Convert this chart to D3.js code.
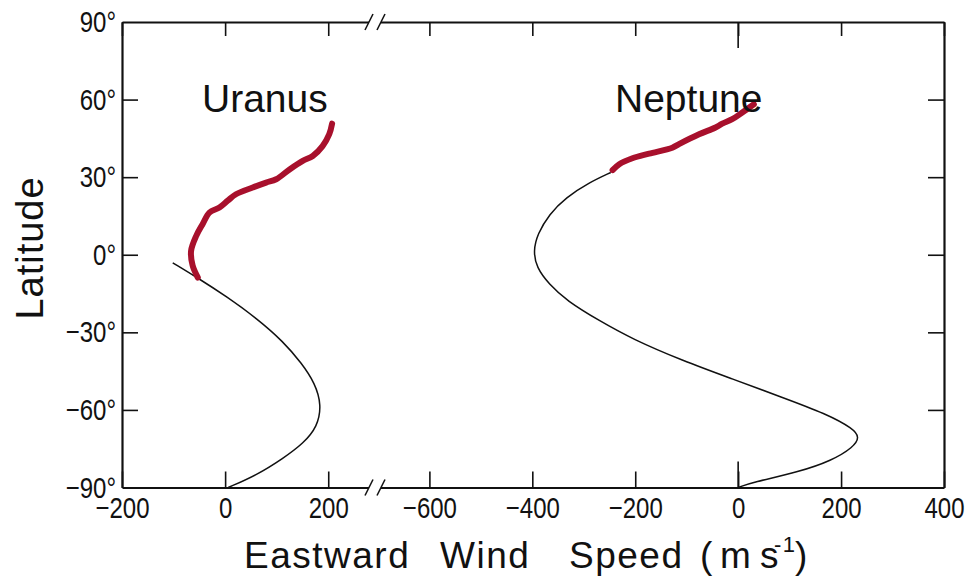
<!DOCTYPE html>
<html>
<head>
<meta charset="utf-8">
<script src="https://cdn.jsdelivr.net/npm/d3@7"></script>
<style>
  body { margin: 0; background: #fff; }
  text { font-family: "Liberation Sans", Arial, sans-serif; fill: #111; }
  .tick text { font-family: "Liberation Sans", Arial, sans-serif; font-size: 30px; fill: #111; }
</style>
</head>
<body>
<div id="chart"></div>
<script>
// tick values
var latTicks = [-90, -60, -30, 0, 30, 60, 90];
var uranusTicks = [-200, 0, 200];
var neptuneTicks = [-600, -400, -200, 0, 200, 400];

// model profiles [wind m/s, latitude]
var uranusModel = [[-101.6, -3.1], [-52, -9.1], [3.1, -16.2], [61.3, -24.6], [112.9, -33.6],
  [148.6, -42], [174.4, -49.7], [187, -58.1], [179, -66.5], [152, -72.9],
  [112.9, -78.7], [61.3, -85.2], [6, -90]];
var neptuneModel = [[-247.5, 31.8], [-289.6, 27.9], [-335, 22.1], [-367, 15.7], [-390, 8],
  [-398, 1.5], [-392, -4.9], [-368, -11.3], [-333, -17.8], [-270, -25.5], [-205.6, -32.6],
  [-108.6, -40.9], [-11.6, -48], [85, -55.1], [171, -61.5], [224, -67.3], [236, -70.6],
  [224, -74.4], [182, -79.6], [118, -84], [27, -88], [0, -90]];

// observed winds [wind m/s, latitude]
var uranusObs = [[-53, -8.8], [-63, -4.2], [-66, 1.5], [-56, 7.3], [-43.5, 11.9], [-30.5, 16.3],
  [-11, 18.3], [5, 20.9], [21, 23.4], [53.5, 26], [79.5, 27.9], [99, 29.2], [125, 33],
  [150.5, 36.3], [170, 38.2], [189, 42], [202, 46.6], [207.5, 50.7]];
var neptuneObs = [[-244, 32.7], [-231, 35], [-205.5, 37.3], [-173, 39.1], [-128, 41.4],
  [-115, 42.8], [-76, 46.6], [-44, 49.2], [-31, 50.7], [-11.6, 52.4], [8, 55], [30.5, 58.2]];

var svgWidth = 969;
var svgHeight = 579;

var plotLeft = 122, plotRight = 944, plotTop = 22, plotBottom = 487.5;
var breakX = 375;
var red = "#a8102c";

var svg = d3.select("#chart")
  .append("svg")
  .attr("width", svgWidth)
  .attr("height", svgHeight);

// scales (broken x axis: two panels sharing the same px per m/s)
var yScale = d3.scaleLinear().domain([-90, 90]).range([plotBottom, plotTop]);
var xU = d3.scaleLinear().domain([-200, 290.7]).range([plotLeft, breakX]);
var xN = d3.scaleLinear().domain([-705.7, 400]).range([breakX, plotRight]);

var degFmt = d => (d < 0 ? "\u2212" + Math.abs(d) : d) + "°";
var numFmt = d => d < 0 ? "\u2212" + Math.abs(d) : d;

// left and right axes
svg.append("g")
  .attr("transform", `translate(${plotLeft},0)`)
  .call(d3.axisLeft(yScale).tickValues(latTicks).tickSizeInner(-16).tickSizeOuter(0).tickPadding(6).tickFormat(degFmt));
svg.append("g")
  .attr("transform", `translate(${plotRight},0)`)
  .call(d3.axisRight(yScale).tickValues(latTicks).tickSizeInner(-16).tickSizeOuter(0).tickFormat(""));

// bottom axes
svg.append("g")
  .attr("transform", `translate(0,${plotBottom})`)
  .call(d3.axisBottom(xU).tickValues(uranusTicks).tickSizeInner(-16).tickSizeOuter(0).tickPadding(9).tickFormat(numFmt));
svg.append("g")
  .attr("transform", `translate(0,${plotBottom})`)
  .call(d3.axisBottom(xN).tickValues(neptuneTicks).tickSizeInner(-16).tickSizeOuter(0).tickPadding(9).tickFormat(numFmt));

// top axes
svg.append("g")
  .attr("transform", `translate(0,${plotTop})`)
  .call(d3.axisTop(xU).tickValues(uranusTicks).tickSizeInner(-14).tickSizeOuter(0).tickFormat(""));
svg.append("g")
  .attr("transform", `translate(0,${plotTop})`)
  .call(d3.axisTop(xN).tickValues(neptuneTicks).tickSizeInner(-14).tickSizeOuter(0).tickFormat(""));

svg.selectAll(".domain").attr("stroke", "#111").attr("stroke-width", 2.2);
svg.selectAll(".tick line").attr("stroke", "#111").attr("stroke-width", 1.6);
svg.selectAll(".tick").filter(d => d === 90 || d === -90).select("line").remove();

// narrow tick labels: squeeze the glyphs horizontally
svg.selectAll(".tick text").each(function() {
  var w = this.getComputedTextLength();
  if (w > 0) d3.select(this).attr("textLength", w * 0.8).attr("lengthAdjust", "spacingAndGlyphs");
});

// longer zero ticks on the Neptune panel
[[plotTop, 1], [plotBottom, -1]].forEach(function(p) {
  svg.append("line")
    .attr("x1", xN(0)).attr("x2", xN(0))
    .attr("y1", p[0]).attr("y2", p[0] + p[1] * 26)
    .attr("stroke", "#111").attr("stroke-width", 1.6);
});

// axis break marks
[plotTop, plotBottom].forEach(function(yy) {
  svg.append("rect")
    .attr("x", breakX - 6).attr("y", yy - 3).attr("width", 12).attr("height", 6)
    .attr("fill", "#fff");
  [-6, 6].forEach(function(dx) {
    svg.append("line")
      .attr("x1", breakX + dx - 4).attr("y1", yy + 8)
      .attr("x2", breakX + dx + 4).attr("y2", yy - 8)
      .attr("stroke", "#111").attr("stroke-width", 1.5);
  });
});

var modelU = d3.line().x(d => xU(d[0])).y(d => yScale(d[1])).curve(d3.curveBasis);
var modelN = d3.line().x(d => xN(d[0])).y(d => yScale(d[1])).curve(d3.curveBasis);
var obsU = d3.line().x(d => xU(d[0])).y(d => yScale(d[1])).curve(d3.curveCatmullRom);
var obsN = d3.line().x(d => xN(d[0])).y(d => yScale(d[1])).curve(d3.curveCatmullRom);

svg.append("path").datum(uranusModel).attr("d", modelU)
  .attr("fill", "none").attr("stroke", "#111").attr("stroke-width", 1.5);
svg.append("path").datum(neptuneModel).attr("d", modelN)
  .attr("fill", "none").attr("stroke", "#111").attr("stroke-width", 1.5);
svg.append("path").datum(uranusObs).attr("d", obsU)
  .attr("fill", "none").attr("stroke", red).attr("stroke-width", 6)
  .attr("stroke-linecap", "round").attr("stroke-linejoin", "round");
svg.append("path").datum(neptuneObs).attr("d", obsN)
  .attr("fill", "none").attr("stroke", red).attr("stroke-width", 6)
  .attr("stroke-linecap", "round").attr("stroke-linejoin", "round");

// planet labels
svg.append("text").attr("x", 202).attr("y", 112)
  .style("font-size", "39px").text("Uranus");
svg.append("text").attr("x", 615).attr("y", 112)
  .style("font-size", "39px").text("Neptune");

// axis titles
svg.append("text")
  .attr("transform", "translate(43,248) rotate(-90)")
  .attr("text-anchor", "middle")
  .style("font-size", "38px").style("letter-spacing", "1px")
  .text("Latitude");

var xTitle = svg.append("text").attr("y", 568).style("font-size", "37px").style("letter-spacing", "1.5px");
xTitle.append("tspan").attr("x", 244).text("Eastward");
xTitle.append("tspan").attr("x", 440).text("Wind");
xTitle.append("tspan").attr("x", 569).text("Speed");
xTitle.append("tspan").attr("x", 700).text("(");
xTitle.append("tspan").attr("x", 720).text("m");
xTitle.append("tspan").attr("x", 760).text("s");
xTitle.append("tspan").attr("x", 774).attr("y", 552).style("font-size", "22px").text("-1");
xTitle.append("tspan").attr("x", 795).attr("y", 568).text(")");
</script>
</body>
</html>
